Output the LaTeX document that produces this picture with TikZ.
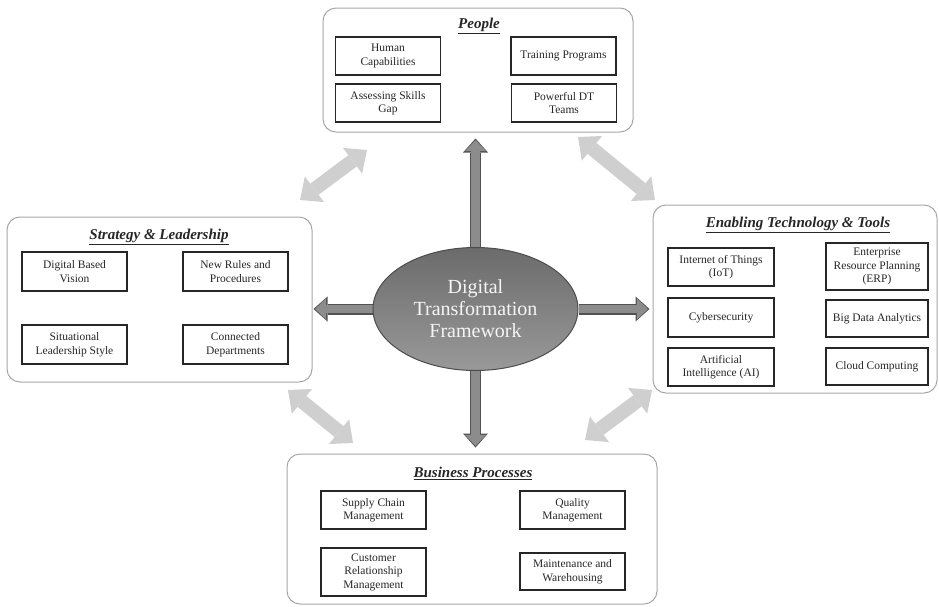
\documentclass[tikz,border=0pt]{standalone}
\usepackage{fontspec}
\setmainfont{Liberation Serif}
\usetikzlibrary{arrows.meta,
	backgrounds,
	calc,
	shapes}
\tikzstyle{grp}=[draw=black!35, line width=1pt, rounded corners=13pt, inner sep=0]
\tikzstyle{bx}=[draw=black!85, line width=1.3pt, align=center, inner sep=0,
		minimum width=105pt, minimum height=38pt, text=black!85,
		font=\fontsize{11.5}{13.5}\selectfont]
\tikzstyle{ttl}=[text=black!85, font=\fontsize{15}{17}\selectfont\bfseries\itshape]
\tikzstyle{hub}=[ellipse, draw=black!70, line width=1pt, top color=black!58,
		bottom color=black!40, minimum width=205pt, minimum height=123pt,
		align=center, text=black!4, font=\fontsize{20}{22}\selectfont]
\tikzstyle{dout}=[line width=11pt, draw=black!68,
		-{Triangle[length=14pt,width=25pt,line width=0pt]}]
\tikzstyle{din}=[line width=8.5pt, draw=black!45, shorten >=1.6pt,
		-{Triangle[length=11pt,width=21pt,line width=0pt]}]
\tikzstyle{lt}=[line width=14pt, draw=black!19,
		{Triangle[length=18pt,width=32pt,line width=0pt]}-{Triangle[length=18pt,width=32pt,line width=0pt]}]
\begin{document}
\begin{tikzpicture}[x=1pt,y=-1pt]
                \useasboundingbox (0,0) rectangle (939,606);
                \node[grp, minimum width=310pt, minimum height=124pt] (ppl) at (478,70) {};
                \node[grp, minimum width=305pt, minimum height=165pt] (strat) at (159.5,299.5) {};
                \node[grp, minimum width=284pt, minimum height=188pt] (tech) at (795,299) {};
                \node[grp, minimum width=370pt, minimum height=150pt] (bus) at (472,529) {};
                \node[ttl] (pplt) at (479,26) {\underline{People}};
                \node[ttl] (stratt) at (159,237) {\underline{Strategy \& Leadership}};
                \node[ttl] (techt) at (798,225) {\underline{Enabling Technology \& Tools}};
                \node[ttl] (bust) at (473,473) {\underline{Business Processes}};
                \node[bx] (hum) at (388,56) {Human\\Capabilities};
                \node[bx] (trn) at (563.5,56) {Training Programs};
                \node[bx] (ask) at (388,103) {Assessing Skills\\Gap};
                \node[bx] (pdt) at (564,103) {Powerful DT\\Teams};
                \node[bx, minimum height=39pt] (vis) at (74.5,271.5) {Digital Based\\Vision};
                \node[bx, minimum height=39pt] (rul) at (235.5,271.5) {New Rules and\\Procedures};
                \node[bx, minimum height=39pt] (sit) at (74.5,344.5) {Situational\\Leadership Style};
                \node[bx, minimum height=39pt] (dep) at (235.5,344.5) {Connected\\Departments};
                \node[bx, minimum width=106pt] (iot) at (721,267) {Internet of Things\\(IoT)};
                \node[bx, minimum width=102pt, minimum height=47pt] (erp) at (877,266.5) {Enterprise\\Resource Planning\\(ERP)};
                \node[bx, minimum width=106pt, minimum height=39pt] (cyb) at (721,317.5) {Cybersecurity};
                \node[bx, minimum width=102pt, minimum height=37pt] (bda) at (877,318.5) {Big Data Analytics};
                \node[bx, minimum width=106pt] (ai) at (721,367) {Artificial\\Intelligence (AI)};
                \node[bx, minimum width=102pt, minimum height=37pt] (cld) at (877,366.5) {Cloud Computing};
                \node[bx] (scm) at (373.5,510) {Supply Chain\\Management};
                \node[bx] (qm) at (572.5,510) {Quality\\Management};
                \node[bx, minimum height=48pt] (crm) at (373.5,572) {Customer\\Relationship\\Management};
                \node[bx, minimum height=37pt] (mw) at (572.5,571.5) {Maintenance and\\Warehousing};
                \node[hub] (dtf) at (475.5,309) {Digital\\Transformation\\Framework};
                \begin{scope}[on background layer]
                \draw[dout] (dtf.north) -- ($(dtf.north |- ppl.south)+(0,6)$);
                \draw[din] (dtf.north) -- ($(dtf.north |- ppl.south)+(0,6)$);
                \draw[dout] (dtf.south) -- ($(dtf.south |- bus.north)+(0,-6)$);
                \draw[din] (dtf.south) -- ($(dtf.south |- bus.north)+(0,-6)$);
                \draw[dout] (dtf.west) -- ($(dtf.west -| strat.east)+(1,0)$);
                \draw[din] (dtf.west) -- ($(dtf.west -| strat.east)+(1,0)$);
                \draw[dout] (dtf.east) -- ($(dtf.east -| tech.west)+(-3,0)$);
                \draw[din] (dtf.east) -- ($(dtf.east -| tech.west)+(-3,0)$);
                \end{scope}
                \coordinate (ula) at (300,200);
                \coordinate (ulb) at (367,150);
                \coordinate (ura) at (578,137);
                \coordinate (urb) at (655,200);
                \coordinate (lla) at (288,390);
                \coordinate (llb) at (353,443);
                \coordinate (lra) at (585,440);
                \coordinate (lrb) at (652,390);
                \draw[lt] (ula) -- (ulb);
                \draw[lt] (ura) -- (urb);
                \draw[lt] (lla) -- (llb);
                \draw[lt] (lra) -- (lrb);
            \end{tikzpicture}
\end{document}
